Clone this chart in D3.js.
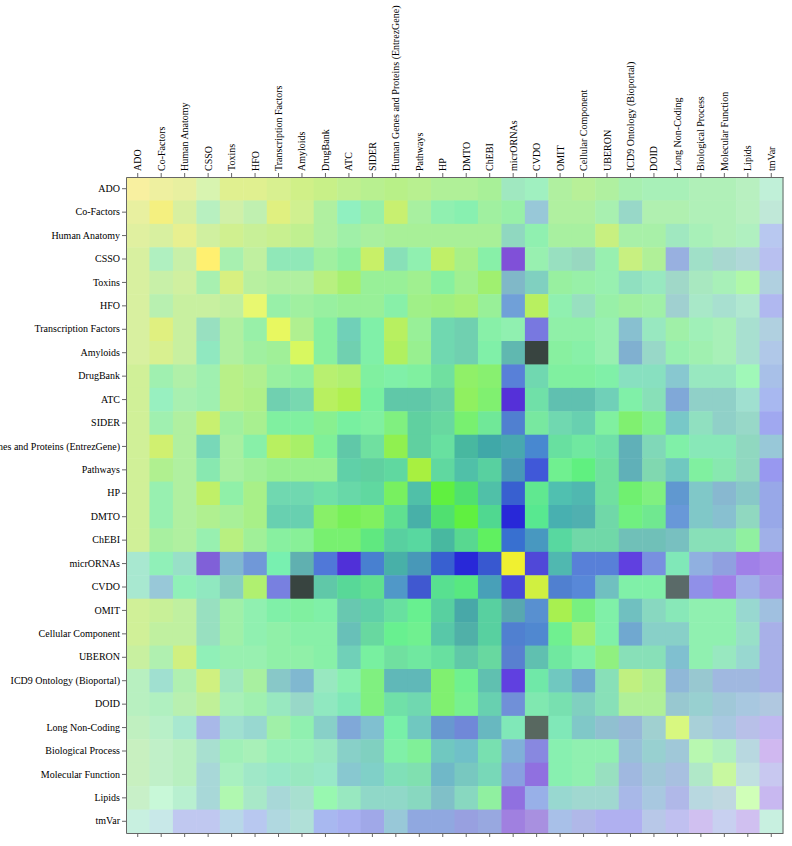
<!DOCTYPE html>
<html>
<head>
<meta charset="utf-8">
<script src="https://cdn.jsdelivr.net/npm/d3@7"></script>
<style>
  body { margin: 0; background: #fff; }
  svg text { font-family: "Liberation Serif", "Times New Roman", serif; font-size: 10px; fill: #000; }
  .axis path, .axis line { stroke: #666; }
</style>
</head>
<body>
<script>
var names = ["ADO", "Co-Factors", "Human Anatomy", "CSSO", "Toxins", "HFO", "Transcription Factors",
  "Amyloids", "DrugBank", "ATC", "SIDER", "Human Genes and Proteins (EntrezGene)", "Pathways", "HP",
  "DMTO", "ChEBI", "micrORNAs", "CVDO", "OMIT", "Cellular Component", "UBERON",
  "ICD9 Ontology (Bioportal)", "DOID", "Long Non-Coding", "Biological Process", "Molecular Function",
  "Lipids", "tmVar"];

// each cell = three scores (red / green / blue channel, 00-ff), one row per dataset
var cellRGB = [
  "f8f0a0 eef0a0 e8f0a0 d8f4b0 e0f090 e0f090 d8f090 d0f088 c8f088 c0f090 b8f090 b8f088 b8f090 b0f098 b0f098 a8f098 a0e8c0 a0f0c0 b0f0a0 b8f098 b0f0a0 a8f0b0 a8f0b8 a8f0b8 b0f0b8 b0f0b8 b8f0c0 c0f0d8",
  "e8f0a0 f4f080 d8f0a0 b8f0c0 d0f0a8 c0f0b0 e0f080 d0f090 b0f0a0 90f0c0 98f0a8 c8f070 a8f0a0 90f0b0 88f0b0 a0f0a0 98f0a8 98c8d8 b0f0a0 b0f0a0 a8f0b0 98d8c8 b0f0b0 b0f0b0 b0f0b8 b0f0b8 b8f0c0 c0e8d8",
  "e0f0a0 d8f0a0 e8f090 d0f0a0 d0f090 c8f098 c8f090 c0f090 b0f0a0 a0f0a8 a8f0a0 a8f098 a8f098 a8f098 a8f098 a8f098 90d8c0 90f0b0 a8f0a0 a8f0a0 c8f080 a8f0a8 a8f0a8 a0e8c0 a8f0b8 b0f0b8 b0f0c0 b8c8f0",
  "d8f0a0 b0f0c0 c8f0a8 fff070 a8f0b0 c0f0a0 90e8b8 90e8b8 a0f0a0 90f0a0 c8f068 88e0b8 90f0b0 c0f068 a8f088 88f0a8 8050d8 98f0b0 98e0c0 98d8c0 98f0b0 c8f080 b0f098 98b0e0 a0e0c8 a8d8d0 b0d8d8 b8c0f0",
  "d8f0a0 c8f0a8 d0f0a0 a8f0b0 d8f080 b8f0a0 b0f0a0 b0f0a0 b8f080 a8f070 98f098 98f098 a0f090 88f0a0 a0f090 a0f070 80b8c8 80d0c0 98f0a0 98f0a8 98f0b0 90e0c0 98e8c0 a0d8c8 a8e8c0 a8f0b8 b0f8a8 b0d0e0",
  "d8f0a0 b8f0b0 c8f0a0 c8f0a0 c0f0a0 e8f870 98f0a8 a0f0a0 98f0a0 98f098 98f098 88f0a8 a0f088 a0f080 a8f078 98f098 70a0d8 b8f060 90f0b0 98e0c0 98f0a8 a0f0a0 a0f0a8 a0d0d0 a8e8c8 a8e0d0 b0e8d0 b0b8f0",
  "d8f0a0 e0f080 c8f0a0 98e0c0 b0f0a0 98f0a8 e8f860 b0f090 88f0a0 70d0b8 80f0a8 b8f060 98f098 70d8b0 70d0b0 88f0a8 90f0b0 7878e0 90f0a8 90f0a8 98f0b0 88c0d0 98e8c0 a0f0a8 a0f0b8 a8f0b8 a8e0d0 b0d0e0",
  "d8f0a0 d8f090 c8f0a0 90e8c0 b0f0a0 a0f0a0 a0f098 d8f860 88f0a0 70d0b0 80f0a8 b0f060 98f090 70d8b0 70d0b0 80f0a8 60b8b0 384440 88f0a0 88f0a8 98f0b0 80b0d0 98d8c8 98f0b0 a0f0b0 a8f0b8 a8e0d0 b0c8e8",
  "d0f098 a0f0b0 b0f0a8 a0f0b0 b8f088 b0f090 98f0a0 90f0a0 b8f070 b0f070 80f0a0 80f0a8 80f0a0 70e0a0 90f068 88f070 5880d8 70d8b0 80f0a0 80f0a0 80f0a8 88e0c0 88e0c0 88c8d0 98e8c0 98e8c0 a0f8b8 a8c0e8",
  "d0f098 98f0c0 a8f0b0 a0f0b0 b8f088 b0f088 70d0b0 78d8b0 b8f060 b0f050 78f0a0 60c8a8 60c8a8 68d0a8 90f060 80f070 5530d8 70e0a8 60c0b0 60c0b0 70d0b8 80f0a8 88e0b8 80a8d8 90d0c8 90d0c8 a0e0d0 a8b8f0",
  "d0f098 a0f0b0 b0f0a0 c8f070 a0f0a0 a8f090 80f0a0 80f0a0 88f090 78f0a0 80f0a0 80f080 60d0a0 68d8a0 78f070 70e898 5080d0 78e8a0 70d8b0 68d0b0 80f0a0 80f070 80f090 78c8c8 90e0c0 90d0c8 98d8c8 a0a8f0",
  "d0f098 d0f070 b0f0a0 78d8b8 a8f0a0 88f0a8 b8f060 a8f068 80f098 60c8a8 70e0a0 90f050 60d0a0 68e0a0 48b8a0 40a8a8 48a8b0 4888d0 68e0a0 70e8a0 70e0a8 60b0b8 80d8b8 80f0a8 88e8b8 88e8b8 90d8c0 98c8d8",
  "d0f098 b0f090 b0f0a0 88e8b0 a8f0a0 a0f098 98f090 98f090 98f090 60d0a8 60d0a0 60d8a0 a8f040 60d8a0 50c0a8 58d0a0 4898b8 4058d8 70f090 60f080 70e0a0 60b0b8 80d8b0 70c8c0 80f0a0 88e8b0 90d8c0 9898f0",
  "d0f098 98f0b0 b0f0a0 c0f068 90f0a8 a8f088 70d8b0 70d8b0 70e0a8 68d8a8 60d8a0 78f060 50c0a8 60f040 50e070 50c0a8 3860d0 60e890 50c0b0 50b8b0 70e0a0 70f070 80f080 6098d0 80c8c8 88b8d0 88c8c8 98a8e8",
  "d0f098 98f0b0 b0f0a0 b0f090 a8f098 a8f088 68d0b0 68d0b0 88f068 78f058 80f060 60e090 48b0a8 50e070 60f040 50d890 2828d8 58e890 48b0b0 50b0b0 70d8a8 70f080 70e890 6898d8 80c8c8 88c0d0 90d8c0 98a8e8",
  "d0f098 a8f0a0 b0f0a0 98f0b0 b8f080 a0f098 88f0a0 88f098 78f070 78f070 60e880 58d0a0 58d8a0 48b8a0 58d890 60f060 3870d0 4898c0 58d8a0 70d8a8 70d8a8 70c0b8 70c0b8 78c0c0 88e0b8 88e0b8 90f0a0 a0b0e8",
  "a8e8d0 90f0b8 98e0c8 8060d8 80b8d0 7098d8 78f0b0 60b0b0 5078d8 5030d8 4880d0 48b0a8 4898b8 3860d0 2828d8 3858d0 f0f030 5048d8 50b8b0 5880d8 5880d8 6040e0 7890e0 80e8b8 90b0e0 90a0e0 a080e8 a888e8",
  "a8e8d0 98c8d8 90f0b8 90e8c0 88d0c0 b0f070 7880e0 384440 60c8a8 58d898 60e090 5098c8 4058d0 58e090 58e880 48a0b8 4848d8 d0f040 5080d0 5888d8 70c0c0 80f0a8 80f0a8 5a6a68 9090e8 a080e8 a0b0e8 a898e8",
  "d0f098 c8f098 c0f0a0 98e0c0 a0f0a8 90f0b0 80f0a8 80f0a0 80f0a8 68c8b0 60d0a8 68e0a0 68f090 58d0a0 48a8a8 58d0a0 58a8b0 5890d0 a8f050 78f080 80f0a8 70c0c0 88d8c0 88e8b8 90f0b0 90f0b0 98d8d0 a0c0e0",
  "d0f098 c0f0a0 c0f0a0 98e0c0 a0f0a8 90f0b0 90f0a8 88f0a8 88f0a8 68c0b8 68d8a0 68f090 70f090 58c8a8 50b0a8 58d0a0 5080d0 5088d0 70f090 a0f070 80f0a8 70a8d0 88d0c8 88d0c8 90f0b0 90f0b0 98e0c8 a8b0e8",
  "c8f0a0 b0f0b0 d0f080 90f0b8 98f0b0 98f0b0 90f0a8 90f0a8 88f0a8 70d0b8 78f0a0 70e0a0 70e8a0 68e0a0 60c8a8 68d8a0 5880d0 60c0b0 70e8a0 80f0a8 90f080 88e0b8 88e0b8 80c0d0 90f0b0 98e8c0 98d8d0 a8b0e8",
  "b8f0c0 a0e0d0 b0f0b0 d0f080 a0e8c0 a8f0a0 88c8c8 80b8d0 98e8c0 88f0b0 80f080 60b8b8 60b8b8 80f070 70f090 60c0b0 6040e0 70e8a8 70c8c0 70a8d0 88e0b8 c0f080 b0f090 90b8d8 98c8d0 a0b8e0 a0b8e0 a8b0e8",
  "b8f0c0 b0f0c0 b8f0b0 c0f098 a8f0b8 a0f0b0 98e8c0 98d8c8 90e8c0 80e8b8 80f080 70e0a8 70d8b0 80f070 78f090 68d0b0 7090d8 80e8b0 78e0b0 80d0c0 88e0b8 b0f098 b0f098 98c8d0 98d0d0 a0c8d8 a8c8e0 b0c8e0",
  "c0f0c0 b8f0c8 a8e8d0 a8b8e8 a0e0d0 98d8d0 a0f0a8 90f0b0 88d0c8 80a8d8 80c0d0 78f0a8 70c8c0 6898d0 7088d8 68b8c0 80e8b8 586860 80e8b8 80c8c8 90c0d0 98b8d8 a0d0d0 d8f880 a8d0d8 a8c8e0 b8c0e8 c0b8f0",
  "c8f0c0 c0f0c8 b8f0c0 a8e0d0 a0f0b8 a8f0b8 98f0b8 98f0b8 98e8c0 88d0c8 80d0c0 80f0a8 80f098 70c8c0 70c0c8 78e0b0 80b0d8 8888e0 88f0b0 90f0b0 90f0b0 98c0d8 98d0d0 a0c8d8 b8f8b0 b0f0c0 b8d8e0 d0b8f0",
  "c8f0c0 c0f0c8 b8f0c0 a8d8d8 a8f0c0 a0e8c8 98e8c8 98e8c0 98e8c8 88c8d0 80d0c8 80e0b8 80e0b0 70b8c8 78c8c0 78d8b8 88a0e0 9070e0 88f0b0 90f0b0 98e0c0 a0b8e0 a0c8d8 a8c0e0 b0e8c8 c8f8a0 c0e0e0 c8c8f0",
  "c8f0c8 c8f8d8 b8f0d0 a8d8d8 b0f8b0 a8e8c8 a8d8d8 a8e0d0 98f8b0 98e8c0 90d8c8 90d8c8 88d8c0 80c0c8 88d8c0 90f0a0 9070e0 98b0e8 98d8d0 a0d8d0 a0d8d0 a8b8e8 a8c8e0 b0b8e8 b8d8e0 c0d8e0 d0ffb8 c8b8f0",
  "c8f0e0 c8e8e8 c0c8f0 c0c8f0 b8d8e8 b8c8f0 b0d8e0 b0e0d8 a8b8f0 a8b0f0 a0a8e8 98c8d8 90a8e0 90a8e0 98a0e0 98a8e0 a080e0 a890e0 a8c0e8 b0b8e8 b0b0f0 b0b0f0 b8c8e8 c0c0f0 d0c0f0 c8d0f0 d0c0f0 c8f0e0"
];

var width = 792, height = 846;
var gridLeft = 126, gridTop = 177, gridRight = 783, gridBottom = 833;

var svg = d3.select("body").append("svg")
    .attr("width", width)
    .attr("height", height);

var x = d3.scaleBand().domain(names).range([gridLeft, gridRight]);
var y = d3.scaleBand().domain(names).range([gridTop, gridBottom]);
var channel = d3.scaleLinear().domain([0, 255]).range([0, 255]).clamp(true);

var cells = [];
cellRGB.forEach(function(row, i) {
    row.split(" ").forEach(function(h, j) {
        cells.push({
            row: names[i], col: names[j],
            r: parseInt(h.slice(0, 2), 16),
            g: parseInt(h.slice(2, 4), 16),
            b: parseInt(h.slice(4, 6), 16)
        });
    });
});

svg.append("g").selectAll("rect")
    .data(cells)
  .enter().append("rect")
    .attr("x", function(d) { return x(d.col); })
    .attr("y", function(d) { return y(d.row); })
    .attr("width", x.bandwidth() + 0.5)
    .attr("height", y.bandwidth() + 0.5)
    .attr("fill", function(d) { return d3.rgb(channel(d.r), channel(d.g), channel(d.b)); });

// top axis, rotated labels
var topAxis = svg.append("g")
    .attr("class", "axis")
    .attr("transform", "translate(0," + gridTop + ")")
    .call(d3.axisTop(x).tickSize(4).tickSizeOuter(0).tickPadding(2));
topAxis.selectAll("text")
    .attr("transform", "rotate(-90)")
    .attr("text-anchor", "start")
    .attr("x", 6)
    .attr("y", 0)
    .attr("dy", "0.35em");

svg.append("g")
    .attr("class", "axis")
    .attr("transform", "translate(" + gridLeft + ",0)")
    .call(d3.axisLeft(y).tickSize(4).tickSizeOuter(0).tickPadding(2));

svg.append("g")
    .attr("class", "axis")
    .attr("transform", "translate(0," + gridBottom + ")")
    .call(d3.axisBottom(x).tickSize(4).tickSizeOuter(0).tickFormat(""));

svg.append("line")
    .attr("x1", gridRight).attr("x2", gridRight)
    .attr("y1", gridTop).attr("y2", gridBottom)
    .attr("stroke", "#666");

svg.selectAll(".axis text").style("font-size", "10px");
</script>
</body>
</html>
